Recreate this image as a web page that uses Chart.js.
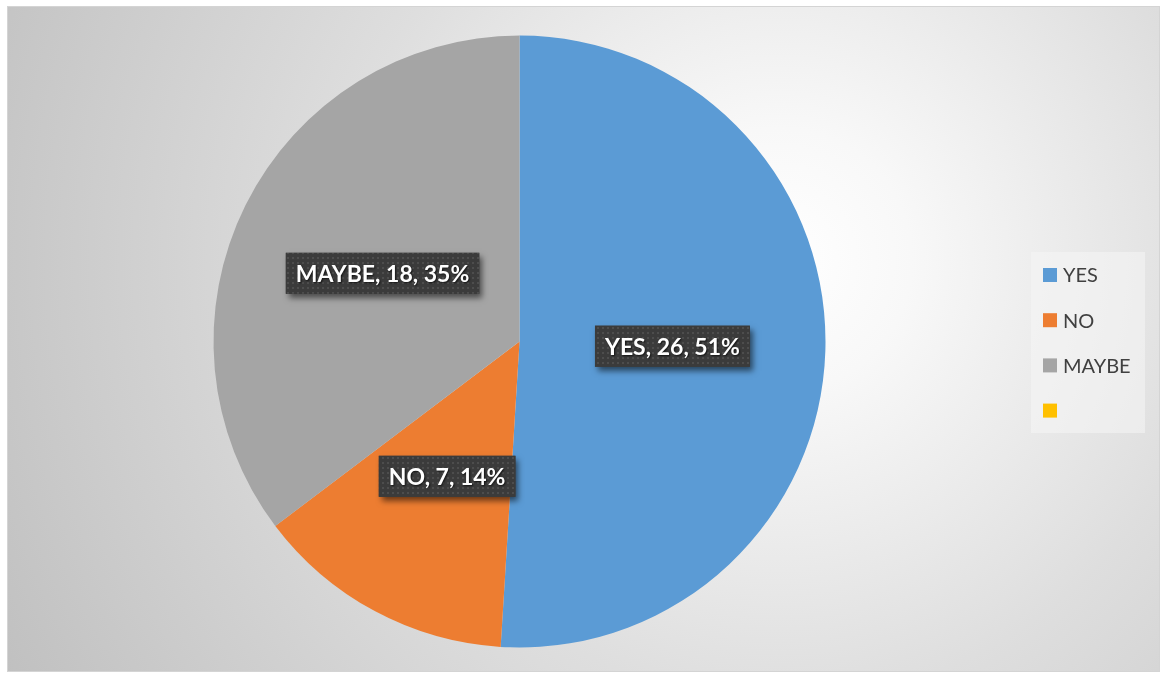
<!DOCTYPE html>
<html>
<head>
<meta charset="utf-8">
<script src="https://cdn.jsdelivr.net/npm/chart.js@4/dist/chart.umd.min.js"></script>
<style>
  html, body { margin: 0; padding: 0; background: #ffffff; }
  #wrap { width: 1162px; height: 675px; position: relative; }
</style>
</head>
<body>
<div id="wrap"><canvas id="c" width="1162" height="675"></canvas></div>
<script>
// Survey answers
const categories = ['YES', 'NO', 'MAYBE', ''];
const responses = [26, 7, 18, 0];
const sliceColors = ['#5B9BD5', '#ED7D31', '#A5A5A5', '#FFC000'];

// Frame of the chart panel
const FRAME = { x: 7, y: 6, w: 1153, h: 666 };

// Soft radial backdrop and thin frame line
const backdrop = {
  id: 'backdrop',
  beforeDraw(chart) {
    const ctx = chart.ctx;
    ctx.save();
    ctx.fillStyle = '#ffffff';
    ctx.fillRect(0, 0, chart.width, chart.height);
    const g = ctx.createRadialGradient(780, 260, 0, 780, 260, 880);
    g.addColorStop(0, '#ffffff');
    g.addColorStop(0.15, '#f8f8f8');
    g.addColorStop(0.5, '#dedede');
    g.addColorStop(1, '#c0c0c0');
    ctx.fillStyle = g;
    ctx.fillRect(FRAME.x, FRAME.y, FRAME.w, FRAME.h);
    ctx.strokeStyle = '#d4d4d4';
    ctx.lineWidth = 1;
    ctx.strokeRect(FRAME.x + 0.5, FRAME.y + 0.5, FRAME.w - 1, FRAME.h - 1);
    ctx.restore();
  }
};

// Dark dotted fill used behind the slice labels
function makeDotPattern(ctx) {
  const p = document.createElement('canvas');
  p.width = 5; p.height = 5;
  const pc = p.getContext('2d');
  pc.fillStyle = '#3b3b3b';
  pc.fillRect(0, 0, 5, 5);
  pc.fillStyle = '#4d4d4d';
  pc.fillRect(2, 2, 2, 2);
  return ctx.createPattern(p, 'repeat');
}

// "Category, value, percent" labels centred halfway out on each slice
const sliceLabels = {
  id: 'sliceLabels',
  afterDatasetsDraw(chart) {
    const ctx = chart.ctx;
    const ds = chart.data.datasets[0];
    const total = ds.data.reduce((a, b) => a + b, 0);
    const meta = chart.getDatasetMeta(0);
    const pattern = makeDotPattern(ctx);
    ctx.save();
    ctx.font = 'bold 23px Lato, "Open Sans", sans-serif';
    ctx.textAlign = 'center';
    ctx.textBaseline = 'middle';
    meta.data.forEach((arc, i) => {
      const v = ds.data[i];
      if (!v) return;
      const pct = Math.round(v / total * 100);
      const text = `${chart.data.labels[i]}, ${v}, ${pct}%`;
      const pos = arc.getCenterPoint();
      const tw = ctx.measureText(text).width;
      const bw = tw + 20, bh = 41;
      const bx = pos.x - bw / 2, by = pos.y - bh / 2;
      // box with drop shadow
      ctx.save();
      ctx.shadowColor = 'rgba(0,0,0,0.55)';
      ctx.shadowBlur = 6;
      ctx.shadowOffsetX = 3;
      ctx.shadowOffsetY = 4;
      ctx.fillStyle = '#3b3b3b';
      ctx.fillRect(bx, by, bw, bh);
      ctx.restore();
      ctx.fillStyle = pattern;
      ctx.fillRect(bx, by, bw, bh);
      // text with slight shadow
      ctx.save();
      ctx.shadowColor = 'rgba(0,0,0,0.7)';
      ctx.shadowBlur = 2;
      ctx.shadowOffsetX = 1;
      ctx.shadowOffsetY = 1;
      ctx.fillStyle = '#ffffff';
      ctx.fillText(text, pos.x, pos.y + 1);
      ctx.restore();
    });
    ctx.restore();
  }
};

// Legend panel on the right
const sideLegend = {
  id: 'sideLegend',
  afterDraw(chart) {
    const ctx = chart.ctx;
    const box = { x: 1031, y: 252, w: 114, h: 181 };
    ctx.save();
    ctx.fillStyle = 'rgba(245,245,245,0.55)';
    ctx.fillRect(box.x, box.y, box.w, box.h);
    ctx.font = '20px Lato, "Open Sans", sans-serif';
    ctx.textBaseline = 'middle';
    ctx.textAlign = 'left';
    const colors = chart.data.datasets[0].backgroundColor;
    chart.data.labels.forEach((lab, i) => {
      const cy = 275 + i * 45.2;
      ctx.fillStyle = colors[i];
      ctx.fillRect(1043, cy - 7, 14, 14);
      ctx.fillStyle = '#404040';
      ctx.fillText(lab, 1063, cy + 1);
    });
    ctx.restore();
  }
};

new Chart(document.getElementById('c'), {
  type: 'pie',
  data: {
    labels: categories,
    datasets: [{
      data: responses,
      backgroundColor: sliceColors,
      borderWidth: 0,
      hoverOffset: 0,
      offset: 0
    }]
  },
  options: {
    responsive: false,
    animation: false,
    events: [],
    layout: { padding: { left: 213.5, right: 336.5, top: 35.5, bottom: 27.5 } },
    plugins: {
      legend: { display: false },
      tooltip: { enabled: false }
    }
  },
  plugins: [backdrop, sliceLabels, sideLegend]
});
</script>
</body>
</html>
